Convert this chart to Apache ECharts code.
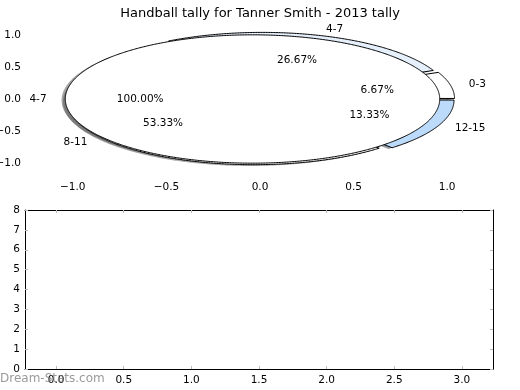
<!DOCTYPE html>
<html>
<head>
<meta charset="utf-8">
<script src="https://cdn.jsdelivr.net/npm/echarts@6/dist/echarts.min.js"></script>
<style>html,body{margin:0;padding:0;background:#fff}#c{width:520px;height:390px}</style>
</head>
<body>
<div id="c"></div>
<script>
// ---- data ----
const titleText = 'Handball tally for Tanner Smith - 2013 tally';
const outerCategories = ['0-3', '4-7', '8-11', '12-15'];
const outerValues = [1, 4, 8, 2];
const outerColors = ['#ffffff', '#e6effc', '#ffffff', '#bcdbfb'];
const innerCategories = ['4-7'];
const innerValues = [1];
const innerColors = ['#ffffff'];
const topTicks = [-1.0, -0.5, 0.0, 0.5, 1.0];
const bottomXTicks = [0.0, 0.5, 1.0, 1.5, 2.0, 2.5, 3.0];
const bottomYMax = 8;

// ---- pie geometry settings (matplotlib-like) ----
const EXPLODE = 0.04, RADIUS = 1.0, LABEL_DIST = 1.1, PCT_DIST = 0.6, SHADOW_DX = -0.02, SHADOW_DY = -0.02;
const FONT = 'DejaVu Sans';

function wedgeInfo(values, i) {
  const total = values.reduce((a, b) => a + b, 0);
  let start = 0;
  for (let k = 0; k < i; k++) start += values[k];
  const t1 = start / total * 360, t2 = (start + values[i]) / total * 360;
  const tm = (t1 + t2) / 2 * Math.PI / 180;
  const cx = EXPLODE * Math.cos(tm), cy = EXPLODE * Math.sin(tm);
  return { t1, t2, tm, cx, cy, frac: values[i] / total, full: values[i] === total };
}
function wedgePts(api, cx, cy, t1, t2, full) {
  const pts = full ? [] : [api.coord([cx, cy])];
  const steps = Math.max(4, Math.ceil((t2 - t1) / 0.5));
  for (let s = 0; s <= steps; s++) {
    const a = (t1 + (t2 - t1) * s / steps) * Math.PI / 180;
    pts.push(api.coord([cx + RADIUS * Math.cos(a), cy + RADIUS * Math.sin(a)]));
  }
  return pts;
}
function shadowColor(hex) {
  const r = parseInt(hex.slice(1, 3), 16), g = parseInt(hex.slice(3, 5), 16), b = parseInt(hex.slice(5, 7), 16);
  return 'rgba(' + Math.round(r * 0.3) + ',' + Math.round(g * 0.3) + ',' + Math.round(b * 0.3) + ',0.5)';
}
function shadowSeries(values, colors, z) {
  return {
    type: 'custom', coordinateSystem: 'cartesian2d', xAxisIndex: 0, yAxisIndex: 0, z: z, silent: true, clip: false,
    data: values.map((v, i) => [i, v]),
    renderItem: function (params, api) {
      const w = wedgeInfo(values, params.dataIndex);
      return { type: 'polygon', shape: { points: wedgePts(api, w.cx + SHADOW_DX, w.cy + SHADOW_DY, w.t1, w.t2, w.full) },
        style: { fill: shadowColor(colors[params.dataIndex]), stroke: null } };
    }
  };
}
function wedgeSeries(values, cats, colors, z) {
  return {
    type: 'custom', coordinateSystem: 'cartesian2d', xAxisIndex: 0, yAxisIndex: 0, z: z, silent: true, clip: false,
    data: values.map((v, i) => [i, v]),
    renderItem: function (params, api) {
      const i = params.dataIndex;
      const w = wedgeInfo(values, i);
      return { type: 'polygon', shape: { points: wedgePts(api, w.cx, w.cy, w.t1, w.t2, w.full) },
        style: { fill: colors[i], stroke: '#000', lineWidth: 1 } };
    }
  };
}
function labelSeries(values, cats, z) {
  return {
    type: 'custom', coordinateSystem: 'cartesian2d', xAxisIndex: 0, yAxisIndex: 0, z: z, silent: true, clip: false,
    data: values.map((v, i) => [i, v]),
    renderItem: function (params, api) {
      const i = params.dataIndex;
      const w = wedgeInfo(values, i);
      const lx = w.cx + LABEL_DIST * RADIUS * Math.cos(w.tm), ly = w.cy + LABEL_DIST * RADIUS * Math.sin(w.tm);
      const px = w.cx + PCT_DIST * RADIUS * Math.cos(w.tm), py = w.cy + PCT_DIST * RADIUS * Math.sin(w.tm);
      const lp = api.coord([lx, ly]), pp = api.coord([px, py]);
      const ha = lx > 0 ? 'left' : 'right';
      return { type: 'group', children: [
        { type: 'text', style: { text: cats[i], x: lp[0], y: lp[1], align: ha, verticalAlign: 'middle', textAlign: ha, textVerticalAlign: 'middle', fill: '#000', font: '10.5px "' + FONT + '"' } },
        { type: 'text', style: { text: (w.frac * 100).toFixed(2) + '%', x: pp[0], y: pp[1], align: 'center', verticalAlign: 'middle', textAlign: 'center', textVerticalAlign: 'middle', fill: '#000', font: '10.5px "' + FONT + '"' } }
      ] };
    }
  };
}

const tickStyle = { show: true, inside: true, length: 3, lineStyle: { color: '#bbbbbb', width: 1 } };
const labelFont = { color: '#000', fontFamily: FONT, fontSize: 10.5 };
const minusFmt = v => Number(v).toFixed(1).replace('-', '\u2212');

const chart = echarts.init(document.getElementById('c'), null, { renderer: 'canvas' });
chart.setOption({
  animation: false,
  backgroundColor: '#ffffff',
  title: { text: titleText, left: 'center', top: 2, textStyle: { fontFamily: FONT, fontSize: 13, fontWeight: 'normal', color: '#000' } },
  grid: [
    { left: 26, top: 22, width: 468, height: 154, containLabel: false, outerBoundsMode: 'none' },
    { left: 25, top: 210, width: 468, height: 159, containLabel: false, outerBoundsMode: 'none' }
  ],
  xAxis: [
    { gridIndex: 0, type: 'value', min: -1.25, max: 1.25, position: 'bottom', axisLine: { show: false }, splitLine: { show: false },
      axisTick: Object.assign({ customValues: topTicks }, tickStyle),
      axisLabel: Object.assign({ customValues: topTicks, formatter: minusFmt, margin: 6 }, labelFont) },
    { gridIndex: 0, type: 'value', min: -1.25, max: 1.25, position: 'top', axisLine: { show: false }, splitLine: { show: false },
      axisTick: Object.assign({ customValues: topTicks }, tickStyle), axisLabel: { show: false } },
    { gridIndex: 1, type: 'value', min: -0.23, max: 3.23, position: 'bottom', axisLine: { show: true, onZero: false, lineStyle: { color: '#000', width: 1 } }, splitLine: { show: false },
      axisTick: Object.assign({ customValues: bottomXTicks }, tickStyle),
      axisLabel: Object.assign({ customValues: bottomXTicks, formatter: minusFmt, margin: 6 }, labelFont) },
    { gridIndex: 1, type: 'value', min: -0.23, max: 3.23, position: 'top', axisLine: { show: true, onZero: false, lineStyle: { color: '#000', width: 1 } }, splitLine: { show: false },
      axisTick: Object.assign({ customValues: bottomXTicks }, tickStyle), axisLabel: { show: false } }
  ],
  yAxis: [
    { gridIndex: 0, type: 'value', min: -1.2, max: 1.2, position: 'left', axisLine: { show: false }, splitLine: { show: false },
      axisTick: Object.assign({ customValues: topTicks }, tickStyle),
      axisLabel: Object.assign({ customValues: topTicks, formatter: minusFmt, margin: 5 }, labelFont) },
    { gridIndex: 0, type: 'value', min: -1.2, max: 1.2, position: 'right', axisLine: { show: false }, splitLine: { show: false },
      axisTick: Object.assign({ customValues: topTicks }, tickStyle), axisLabel: { show: false } },
    { gridIndex: 1, type: 'value', min: 0, max: bottomYMax, interval: 1, position: 'left', axisLine: { show: true, onZero: false, lineStyle: { color: '#000', width: 1 } }, splitLine: { show: false },
      axisTick: tickStyle, axisLabel: Object.assign({ margin: 5 }, labelFont) },
    { gridIndex: 1, type: 'value', min: 0, max: bottomYMax, interval: 1, position: 'right', axisLine: { show: true, onZero: false, lineStyle: { color: '#000', width: 1 } }, splitLine: { show: false },
      axisTick: tickStyle, axisLabel: { show: false } }
  ],
  graphic: [
    { type: 'text', left: 0, top: 373, z: 100, silent: true, style: { text: 'Dream-Stats.com', fill: 'rgba(120,120,120,0.75)', font: '12px "' + FONT + '"' } }
  ],
  series: [
    shadowSeries(outerValues, outerColors, 1),
    shadowSeries(innerValues, innerColors, 1),
    wedgeSeries(outerValues, outerCategories, outerColors, 2),
    wedgeSeries(innerValues, innerCategories, innerColors, 3),
    labelSeries(outerValues, outerCategories, 4),
    labelSeries(innerValues, innerCategories, 4)
  ]
});
</script>
</body>
</html>
